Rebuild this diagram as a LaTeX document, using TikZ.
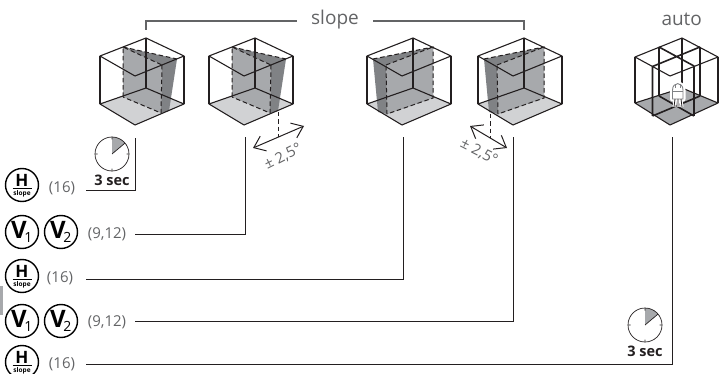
\documentclass[tikz,border=0pt]{standalone}
\usepackage{fontspec}
\setmainfont{Open Sans}
\usetikzlibrary{arrows.meta}
\definecolor{floorg}{HTML}{D1D2D4}
\definecolor{planeg}{HTML}{A7A9AC}
\definecolor{planed}{HTML}{808285}
\definecolor{inkg}{HTML}{231F20}
\definecolor{txtg}{HTML}{636466}
\tikzset{
  edge/.style={draw=inkg,line width=1.1pt,line join=round},
  conn/.style={draw=inkg,line width=0.85pt},
  brack/.style={draw=txtg,line width=1.2pt},
  dashl/.style={draw=inkg,line width=1pt,dash pattern=on 4.5pt off 2.8pt},
  btn/.style={circle,draw=black,line width=1.4pt,minimum size=33pt,inner sep=0pt},
  lab/.style={text=txtg,font=\fontsize{15}{17}\selectfont,inner sep=0pt},
  head/.style={text=txtg,font=\fontsize{19}{21}\selectfont,inner sep=0pt},
  secs/.style={text=inkg,font=\fontsize{14.5}{16}\selectfont\bfseries,inner sep=0pt},
  angl/.style={text=txtg,font=\fontsize{15}{17}\selectfont,inner sep=0pt},
  dbl/.style={draw=inkg,line width=1pt,{Straight Barb[length=10.5pt,width=16pt,line width=1pt]}-{Straight Barb[length=10.5pt,width=16pt,line width=1pt]}},
}
\newcommand{\cubefloor}[1]{\fill[floorg,shift={(#1,0)}] (100,104)--(146,88)--(184,104)--(135,125)--cycle;}
\newcommand{\cubeedges}[1]{\begin{scope}[shift={(#1,0)}]
  \draw[edge] (100,56)--(146,38)--(184,56)--(135,76)--cycle;
  \draw[edge] (100,104)--(146,88)--(184,104)--(135,125)--cycle;
  \draw[edge] (100,56)--(100,104) (184,56)--(184,104) (146,38)--(146,88);
\end{scope}}
\newcommand{\hbutton}[3]{%
  \node[btn] (#1) at (#2,#3) {};
  \node[inner sep=0pt,font=\fontsize{17}{17}\selectfont\bfseries] (#1t) at (#2,#3-4.5) {H};
  \draw[line width=1pt] (#2-9.5,#3+3.5)--(#2+9.5,#3+3.5);
  \node[inner sep=0pt,font=\fontsize{6.5}{7}\selectfont\bfseries] (#1s) at (#2,#3+8.5) {slope};}
\newcommand{\vbutton}[4]{%
  \node[btn,font=\fontsize{24}{24}\selectfont\bfseries] (#1) at (#2,#3)
    {\kern-0.5pt V\kern-2.5pt\raisebox{-3.5pt}{\fontsize{14}{14}\selectfont\mdseries #4}};}
\newcommand{\clockface}[3]{%
  \fill[planeg] (#2,#3) -- (#2,#3-17) .. controls (#2+4.5,#3-17) and (#2+9.5,#3-15) .. (#2+13,#3-10.9) -- cycle;
  \node[circle,draw=inkg,line width=0.7pt,minimum size=34pt,inner sep=0pt] (#1) at (#2,#3) {};
  \draw[line width=0.7pt,draw=inkg] (#2,#3)--(#2+13,#3-10.9) (#2,#3-17)--++(0,2.5) (#2,#3+17)--++(0,-2.5) (#2-17,#3)--++(2.5,0) (#2+17,#3)--++(-2.5,0);}
\begin{document}
\begin{tikzpicture}[x=1pt,y=-1pt]
\useasboundingbox (0,0) rectangle (719,374);
% grey tab
\fill[planeg] (0,286) rectangle (3,315);
% heading
\node[head] (slope) at (335,20) {slope};
\node[head] (auto) at (681.7,19) {auto};
\coordinate (bl) at (146,30); \coordinate (br) at (524,30);
\coordinate (bla) at (297,21); \coordinate (bra) at (373,21);
\draw[brack] (bl) |- (bla);
\draw[brack] (br) |- (bra);
% cube 1
\cubefloor{0}
\fill[planeg] (123,47)--(162,65)--(161,113)--(123,97)--cycle;
\fill[planed] (123,47)--(177,59)--(169,111)--(161,113)--(162,65)--cycle;
\draw[dashl] (123,97)--(123,47)--(162,65) (123,47)--(177,59) (162,65)--(161,113)--(123,97);
\cubeedges{0}
% cube 2
\cubefloor{109}
\fill[planeg] (232,47)--(271,65)--(270,113)--(232,97)--cycle;
\fill[planed] (232,47)--(286,59)--(278,111)--(270,113)--(271,65)--cycle;
\draw[dashl] (232,97)--(232,47)--(271,65) (232,47)--(286,59) (271,65)--(270,113)--(232,97);
\cubeedges{109}
% cube 3
\cubefloor{267}
\fill[planed] (373,59)--(433,47)--(433,98)--(387,114)--(378,112)--cycle;
\fill[planeg] (386,65)--(433,47)--(433,98)--(387,114)--cycle;
\draw[dashl] (373,59)--(433,47)--(433,98)--(387,114)--(386,65) (386,65)--(433,47);
\cubeedges{267}
% cube 4
\cubefloor{378}
\fill[planed] (484,59)--(544,47)--(544,98)--(498,114)--(489,112)--cycle;
\fill[planeg] (497,65)--(544,47)--(544,98)--(498,114)--cycle;
\draw[dashl] (484,59)--(544,47)--(544,98)--(498,114)--(497,65) (497,65)--(544,47);
\cubeedges{378}
% cube 5
\fill[planeg] (635,103)--(682,88)--(718,103)--(670,125)--cycle;
\draw[edge] (635,57)--(682,38)--(718,57)--(670,76)--cycle;
\draw[edge] (635,103)--(682,88)--(718,103)--(670,125)--cycle;
\draw[edge] (635,57)--(635,103) (718,57)--(718,103) (682,38)--(682,88);
\draw[edge,line width=1.6pt] (659,47)--(694,66) (700,47)--(652.5,66.5)
  (659,47)--(659,96) (700,47)--(700,96) (694,66)--(694,116) (652.5,66.5)--(652.5,116)
  (659,96)--(694,116) (700,96)--(652.5,116);
% laser on its tripod, with a white halo
\draw[white,line width=5pt,line join=round,fill=white] (672.5,99) -- (672.5,90) .. controls (672.5,81.5) and (683,81.5) .. (683,90) -- (683,99) -- cycle;
\draw[white,line width=3pt] (675,99)--(674,107) (678,99)--(678,107) (681,99)--(682,107);
\draw[draw=planed,line width=0.9pt,fill=white] (672.5,99) -- (672.5,90) .. controls (672.5,81.5) and (683,81.5) .. (683,90) -- (683,99) -- cycle;
\draw[draw=planed,line width=0.8pt] (672.5,91)--(683,91) (675,88)--(675,84.5) (680,88)--(680,84.5);
\draw[draw=inkg,line width=0.8pt] (675,99)--(674,107) (678,99)--(678,107) (681,99)--(682,107);
% dashed projections
\coordinate (d2a) at (278,112); \coordinate (d2b) at (278,137);
\draw[dashl] (d2a)--(d2b);
\coordinate (d4a) at (490,114); \coordinate (d4b) at (490,138);
\draw[dashl] (d4a)--(d4b);
% tilt arrows
\coordinate (a2a) at (253,148); \coordinate (a2b) at (304,126);
\draw[dbl] (a2a)--(a2b);
\node[angl,rotate=27] (t2) at (283,157) {± 2,5°};
\coordinate (a4a) at (470,126); \coordinate (a4b) at (507,148);
\draw[dbl] (a4a)--(a4b);
\node[angl,rotate=-27] (t4) at (479,152) {± 2,5°};
% clocks
\clockface{ck1}{112}{154}
\node[secs] (s1) at (112,180) {3 sec};
\clockface{ck2}{645}{325}
\node[secs] (s2) at (645,351) {3 sec};
% buttons
\hbutton{h1}{22}{185}
\vbutton{v1}{22}{232}{1}
\vbutton{v2}{61}{232}{2}
\hbutton{h2}{22}{276}
\vbutton{v3}{22}{321}{1}
\vbutton{v4}{61}{321}{2}
\hbutton{h3}{22}{362}
% labels
\node[lab] (n1) at (62,188) {(16)};
\node[lab] (n2) at (107,234) {(9,12)};
\node[lab] (n3) at (60,278) {(16)};
\node[lab] (n4) at (107,322) {(9,12)};
\node[lab] (n5) at (62,364) {(16)};
% connectors
\coordinate (s1c) at (86,190); \coordinate (s2c) at (135,234); \coordinate (s3c) at (86,279);
\coordinate (s4c) at (135,321); \coordinate (s5c) at (86,364);
\coordinate (e1) at (135,138); \coordinate (e2) at (245,137);
\coordinate (e3) at (403,137); \coordinate (e4) at (513,137); \coordinate (e5) at (672,137);
\draw[conn] (s1c) -| (e1);
\draw[conn] (s2c) -| (e2);
\draw[conn] (s3c) -| (e3);
\draw[conn] (s4c) -| (e4);
\draw[conn] (s5c) -| (e5);
\end{tikzpicture}
\end{document}
